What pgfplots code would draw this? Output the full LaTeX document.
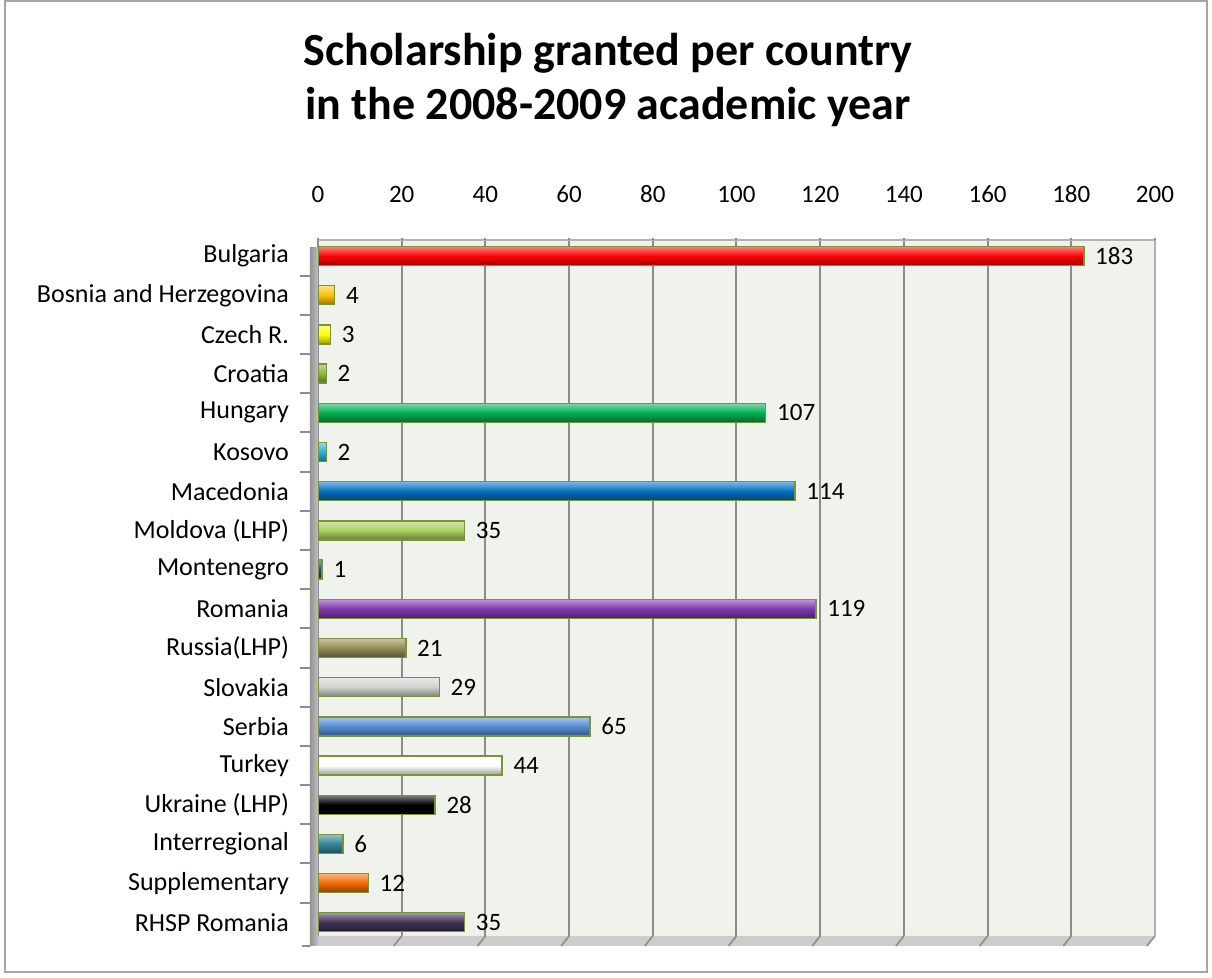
\documentclass[border=0pt]{standalone}
\usepackage{fontspec}
\setmainfont{Carlito}
\usepackage{pgfplots}
\pgfplotsset{compat=1.18}

\definecolor{edge}{HTML}{77933C}
\definecolor{wallbg}{HTML}{F0F3EC}
\definecolor{gridc}{HTML}{8C8C8C}
\definecolor{cA}{HTML}{FF0000}
\definecolor{cB}{HTML}{FFC000}
\definecolor{cC}{HTML}{FFFF00}
\definecolor{cD}{HTML}{8DB43C}
\definecolor{cE}{HTML}{00B050}
\definecolor{cF}{HTML}{1FB4E0}
\definecolor{cG}{HTML}{0070C0}
\definecolor{cH}{HTML}{A9CF5C}
\definecolor{cI}{HTML}{1F497D}
\definecolor{cJ}{HTML}{7F36B0}
\definecolor{cK}{HTML}{948A54}
\definecolor{cL}{HTML}{D0D0D0}
\definecolor{cM}{HTML}{558ED5}
\definecolor{cN}{HTML}{FFFFFF}
\definecolor{cO}{HTML}{000000}
\definecolor{cP}{HTML}{31859C}
\definecolor{cQ}{HTML}{F46A00}
\definecolor{cR}{HTML}{403152}

\begin{document}
\begin{tikzpicture}
\tikzset{cyl/.style={draw=edge, line width=0.7pt,
  top color=#1!50!white, bottom color=#1!60!black, middle color=#1}}
\begin{axis}[
  name=ax,
  at={(0,0)}, anchor=south west,
  scale only axis,
  width=418.5pt, height=348pt,
  xbar, bar width=9.5pt, bar shift=0pt,
  xmin=0, xmax=200,
  ymin=-0.41, ymax=17.35,
  y dir=reverse,
  xtick={0,20,...,200},
  xticklabel pos=upper,
  xtick pos=upper,
  ytick pos=left,
  tick align=outside,
  major tick length=9pt,
  xmajorgrids,
  grid style={gridc, line width=1pt},
  tick style={gridc, line width=1pt},
  xtick style={draw=none},
  ytick={-0.5,0.5,...,16.5},
  yticklabels={},
  extra y ticks={0,1,...,17},
  extra y tick labels={Bulgaria,Bosnia and Herzegovina,Czech R.,Croatia,Hungary,Kosovo,Macedonia,Moldova (LHP),Montenegro,Romania,Russia(LHP),Slovakia,Serbia,Turkey,Ukraine (LHP),Interregional,Supplementary,RHSP Romania},
  extra y tick style={major tick length=0pt, yticklabel style={xshift=-11pt, font=\fontsize{13}{15}\selectfont}},
  axis background/.style={fill=wallbg},
  axis line style={draw=none},
  ticklabel style={font=\fontsize{12.5}{15}\selectfont, text=black},
  /pgf/number format/assume math mode=true,
  xticklabel style={yshift=6pt},
  point meta=x,
  nodes near coords,
  every node near coord/.append style={font=\fontsize{12.5}{15}\selectfont, text=black, xshift=2pt},
  clip=false,
]
% back wall edges, floor, tick marks and slanted floor lines
\draw[gray!60, line width=0.8pt] (axis cs:0,-0.41) -- (axis cs:200,-0.41) -- (axis cs:200,17.35);
\fill[gray!40] (axis cs:0,17.35) -- ++(-4pt,-5pt) -- ([xshift=-4pt,yshift=-5pt]axis cs:200,17.35) -- (axis cs:200,17.35) -- cycle;
\pgfplotsinvokeforeach{0,20,40,60,80,100,120,140,160,180,200}{
  \draw[gridc, line width=1pt] (axis cs:#1,-0.41) -- ++(0,9pt);
  \draw[gridc, line width=0.8pt] (axis cs:#1,17.35) -- ++(-4pt,-5pt);
}
\addplot[cyl=cA] coordinates {(183,0)};
\addplot[cyl=cB] coordinates {(4,1)};
\addplot[cyl=cC] coordinates {(3,2)};
\addplot[cyl=cD] coordinates {(2,3)};
\addplot[cyl=cE] coordinates {(107,4)};
\addplot[cyl=cF] coordinates {(2,5)};
\addplot[cyl=cG] coordinates {(114,6)};
\addplot[cyl=cH] coordinates {(35,7)};
\addplot[cyl=cI] coordinates {(1,8)};
\addplot[cyl=cJ] coordinates {(119,9)};
\addplot[cyl=cK] coordinates {(21,10)};
\addplot[cyl=cL] coordinates {(29,11)};
\addplot[cyl=cM] coordinates {(65,12)};
\addplot[cyl=cN] coordinates {(44,13)};
\addplot[cyl=cO] coordinates {(28,14)};
\addplot[cyl=cP] coordinates {(6,15)};
\addplot[cyl=cQ] coordinates {(12,16)};
\addplot[cyl=cR] coordinates {(35,17)};
\end{axis}
% left wall
\fill[left color=gray!85, right color=gray!50] ([xshift=-4pt,yshift=-5pt]ax.south west) rectangle ([yshift=-4pt]ax.north west);
\draw[gridc, line width=1pt] ([xshift=-4pt,yshift=-5pt]ax.south west) -- ([xshift=-8pt,yshift=-5pt]ax.south west);
% title
\node[align=center, font=\bfseries\fontsize{23}{27}\selectfont] at (145pt,428pt) {Scholarship granted per country\\in the 2008-2009 academic year};
% outer frame
\draw[gray!70, line width=1pt] (-156.5pt,-18pt) rectangle (444.5pt,467.5pt);
\path[use as bounding box] (-159pt,-21pt) rectangle (447pt,468pt);
\end{tikzpicture}
\end{document}
